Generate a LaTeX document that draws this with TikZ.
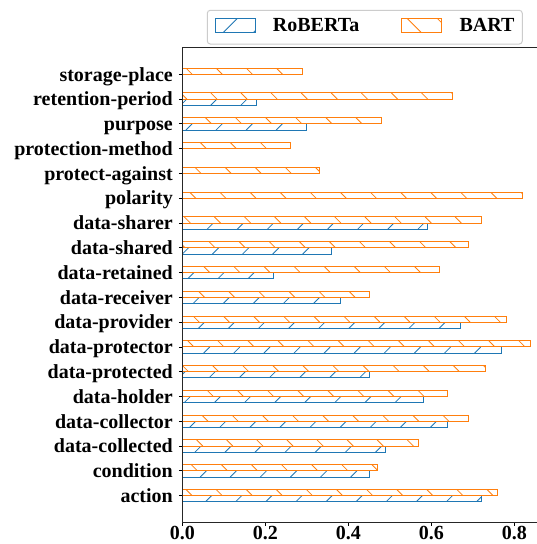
\documentclass[tikz,border=0pt]{standalone}
\usepackage{fontspec}
\setmainfont{Liberation Serif}
\definecolor{tabblue}{HTML}{1F77B4}
\definecolor{taborange}{HTML}{FF7F0E}
\tikzset{
  baredge/.style={line width=1pt},
  hatchline/.style={line width=0.8pt},
  ticklabel/.style={font=\fontsize{20}{24}\selectfont\bfseries, inner sep=0pt},
  tickmark/.style={line width=0.9pt, black},
  spine/.style={line width=1pt, black!85},
  legendframe/.style={draw=black!20, fill=white, rounded corners=3pt, line width=1pt},
}

% bar hatched with '/': #1 colour, #2 left x, #3 right x, #4 top y, #5 bottom y
\newcommand\fwdbar[5]{%
  \begin{scope}
    \clip (#2,#4) rectangle (#3,#5);
    \pgfmathtruncatemacro\hfirst{floor((#2+#4-15)/30.1)}
    \foreach \k in {0,...,14} {
      \pgfmathsetmacro\hs{15+30.1*(\hfirst+\k)}
      \draw[#1, hatchline] (\hs-#5,#5) -- (\hs-#4,#4);
    }
  \end{scope}
  \draw[#1, baredge] (#2,#4) rectangle (#3,#5);
}
% bar hatched with '\': same arguments
\newcommand\backbar[5]{%
  \begin{scope}
    \clip (#2,#4) rectangle (#3,#5);
    \pgfmathtruncatemacro\hfirst{floor((#2-#5-27.6)/30.1)}
    \foreach \k in {0,...,14} {
      \pgfmathsetmacro\hs{27.6+30.1*(\hfirst+\k)}
      \draw[#1, hatchline] (\hs+#4,#4) -- (\hs+#5,#5);
    }
  \end{scope}
  \draw[#1, baredge] (#2,#4) rectangle (#3,#5);
}

\begin{document}
\begin{tikzpicture}[x=1pt, y=-1pt]
\useasboundingbox (0,0) rectangle (537,544);
\clip (0,0) rectangle (537,544);
\fill[white] (0,0) rectangle (537,544);

% horizontal bars, one row per category
\foreach \lab/\bv/\rv [count=\i from 0] in {
  storage-place/0.29/0,
  retention-period/0.65/0.18,
  purpose/0.48/0.30,
  protection-method/0.26/0,
  protect-against/0.33/0,
  polarity/0.82/0,
  data-sharer/0.72/0.59,
  data-shared/0.69/0.36,
  data-retained/0.62/0.22,
  data-receiver/0.45/0.38,
  data-provider/0.78/0.67,
  data-protector/0.84/0.77,
  data-protected/0.73/0.45,
  data-holder/0.64/0.58,
  data-collector/0.69/0.64,
  data-collected/0.57/0.49,
  condition/0.47/0.45,
  action/0.76/0.72} {
  \pgfmathsetmacro\ty{74.3+24.79*\i}
  \pgfmathsetmacro\tyup{\ty-6.2}
  \pgfmathsetmacro\tydn{\ty+6.2}
  \pgfmathsetmacro\bx{182.3+415*\bv}
  \pgfmathsetmacro\rx{182.3+415*\rv}
  \ifdim\rv pt>0pt
    \fwdbar{tabblue}{182.3}{\rx}{\ty}{\tydn}
  \fi
  \backbar{taborange}{182.3}{\bx}{\tyup}{\ty}
  \draw[tickmark] (178.8,\ty) -- (182.3,\ty);
  \node[ticklabel, anchor=base east] (ylab\i) at (173,\ty+6.7) {\lab};
}

% x axis ticks and labels
\foreach \v [count=\j from 0] in {0.0,0.2,0.4,0.6,0.8} {
  \pgfmathsetmacro\tx{182.3+415*\v}
  \draw[tickmark] (\tx,522.7) -- (\tx,526.2);
  \node[ticklabel, anchor=base] (xlab\j) at (\tx,539.5) {\v};
}

% axis spines
\draw[spine] (545,47.7) -- (182.3,47.7) -- (182.3,522.7) -- (545,522.7);

% legend
\draw[legendframe] (207.3,10.3) rectangle (522.3,44);
\fwdbar{tabblue}{215}{255}{18.3}{32.3}
\backbar{taborange}{401.3}{441.3}{18.3}{32.3}
\node[ticklabel, anchor=base west] (legrob) at (272.7,31.7) {RoBERTa};
\node[ticklabel, anchor=base west] (legbart) at (459.3,31.7) {BART};
\end{tikzpicture}
\end{document}
